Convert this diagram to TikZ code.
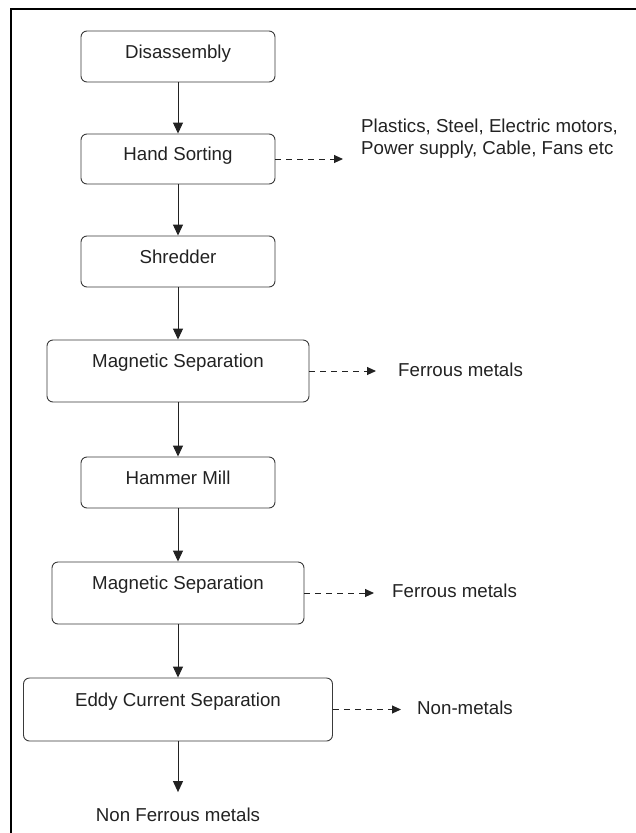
\documentclass[tikz,border=0pt]{standalone}
\usepackage{fontspec}
\setmainfont{Liberation Sans}
\usetikzlibrary{arrows.meta}
\definecolor{ink}{HTML}{222222}
\definecolor{edge}{HTML}{3A3A3A}
\begin{document}
\begin{tikzpicture}[x=1pt,y=-1pt,
  every node/.style={font=\fontsize{18.7}{22}\selectfont, text=ink},
  stage/.style={draw=edge, line width=0.9pt, rounded corners=6pt, inner sep=0pt,
    minimum width=194pt, minimum height=51pt, text height=13.4pt, text depth=10pt},
  tallstage/.style={stage, minimum height=62pt, text depth=20pt},
  side/.style={anchor=west, inner sep=0pt, text height=13.4pt, text depth=0pt},
  flow/.style={draw=ink, line width=1pt, -{Triangle[length=11pt,width=10pt]}},
  reject/.style={draw=ink, line width=1pt, dash pattern=on 6pt off 5pt,
    -{Triangle[length=9pt,width=8pt]}}
]
\useasboundingbox (0,0) rectangle (636,833);

% page frame (top and left edges)
\draw[line width=2pt, black] (11,833) -- (11,8.5) -- (636,8.5);

% process stages
\node[stage] (dis) at (178,56.5) {Disassembly};
\node[stage, minimum height=50pt] (hs) at (178,159) {Hand Sorting};
\node[stage] (shr) at (178,261.5) {Shredder};
\node[tallstage, minimum width=262pt] (ms1) at (178,371) {Magnetic Separation};
\node[stage] (hm) at (178,482.5) {Hammer Mill};
\node[tallstage, minimum width=252pt] (ms2) at (178,593) {Magnetic Separation};
\node[tallstage, minimum width=309pt, minimum height=63pt] (ecs) at (178,709.5) {Eddy Current Separation};

% outputs
\node[anchor=west, inner sep=0pt, align=left] (hsout) at (361,139)
  {Plastics, Steel, Electric motors,\\Power supply, Cable, Fans etc};
\node[side] (fe1) at (398,370) {Ferrous metals};
\node[side] (fe2) at (392,591) {Ferrous metals};
\node[side] (nm) at (417,708) {Non-metals};
\node[inner sep=0pt, text height=13.4pt, text depth=0pt] (nfm) at (178,815) {Non Ferrous metals};

% main flow
\draw[flow] (dis.south) -- (hs.north);
\draw[flow] (hs.south) -- (shr.north);
\draw[flow] (shr.south) -- (ms1.north);
\draw[flow] (ms1.south) -- (hm.north);
\draw[flow] (hm.south) -- (ms2.north);
\draw[flow] (ms2.south) -- (ecs.north);
\draw[flow, shorten >=16pt] (ecs.south) -- (nfm.north);

% separated fractions
\draw[reject, shorten >=18pt] (hs.east) -- (hs.east -| hsout.west);
\draw[reject, shorten >=22pt] (ms1.east) -- (ms1.east -| fe1.west);
\draw[reject, shorten >=18pt] (ms2.east) -- (ms2.east -| fe2.west);
\draw[reject, shorten >=16pt] (ecs.east) -- (ecs.east -| nm.west);
\end{tikzpicture}
\end{document}
